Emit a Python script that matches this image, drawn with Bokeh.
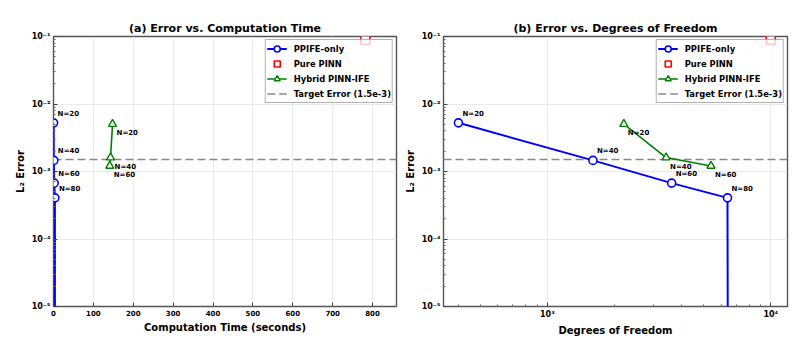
from bokeh.plotting import figure
from bokeh.layouts import row
from bokeh.models import FixedTicker, Range1d, Legend, LegendItem, ColumnDataSource
from bokeh.core.properties import value
from bokeh.embed import file_html
from bokeh.resources import INLINE

# ---------------- data ----------------
ppife_N = [20, 40, 60, 80, 100]
ppife_time = [0.3, 0.8, 1.8, 3.5, 6.0]
ppife_dof = [400, 1600, 3600, 6400, 10000]
ppife_err = [5.26e-3, 1.46e-3, 6.73e-4, 4.07e-4, 0.0]

hybrid_N = [20, 40, 60]
hybrid_time = [148, 143, 141]
hybrid_dof = [2200, 3400, 5400]
hybrid_err = [5.04e-3, 1.61e-3, 1.21e-3]

pinn_time = [782]
pinn_dof = [10000]
pinn_err = [0.089]

target_err = 1.5e-3

y_ticks = [1e-5, 1e-4, 1e-3, 1e-2, 1e-1]
y_tick_labels = ["10⁻⁵", "10⁻⁴", "10⁻³", "10⁻²", "10⁻¹"]
time_ticks = [0, 100, 200, 300, 400, 500, 600, 700, 800]
dof_ticks = [1e3, 1e4]
dof_tick_labels = ["10³", "10⁴"]

FONT = "DejaVu Sans"
BLUE = "#0000ff"
GREEN = "#008000"
RED = "#ff0000"


def log_minors(lo_exp, hi_exp):
    out = []
    for e in range(lo_exp, hi_exp):
        for m in range(2, 10):
            out.append(m * 10.0 ** e)
    return out


def make_fig(title, x_ppife, x_hybrid, x_pinn, x_type, x_rng, x_ticker, x_over,
             xlabel, width, b_left, b_right):
    p = figure(width=width, height=344, x_axis_type=x_type, y_axis_type="log",
               x_range=Range1d(*x_rng), y_range=Range1d(1e-5, 1e-1),
               output_backend="svg", toolbar_location=None,
               min_border_left=b_left, min_border_right=b_right,
               min_border_top=36, min_border_bottom=38)
    p.title.text = title
    p.title.text_font = FONT
    p.title.text_font_size = "11px"
    p.title.text_font_style = "bold"
    p.title.align = "center"
    p.title.standoff = 4
    p.title.text_color = "black"

    p.outline_line_color = "#555555"
    p.outline_line_width = 1.4
    p.background_fill_color = "white"
    p.border_fill_color = "white"

    p.xgrid.grid_line_color = "#e4e4e4"
    p.ygrid.grid_line_color = "#e4e4e4"
    p.xgrid.grid_line_width = 0.8
    p.ygrid.grid_line_width = 0.8

    p.yaxis.ticker = FixedTicker(ticks=y_ticks, minor_ticks=log_minors(-5, -1))
    p.yaxis.major_label_overrides = dict(zip(y_ticks, y_tick_labels))
    p.xaxis.ticker = x_ticker
    if x_over:
        p.xaxis.major_label_overrides = x_over

    for ax in (p.xaxis[0], p.yaxis[0]):
        ax.axis_line_color = None
        ax.major_tick_in = 4
        ax.major_tick_out = 0
        ax.minor_tick_in = 2
        ax.minor_tick_out = 0
        ax.major_tick_line_color = "#444444"
        ax.minor_tick_line_color = "#666666"
        ax.major_label_text_font = FONT
        ax.major_label_text_font_style = "bold"
        ax.major_label_text_color = "black"
        ax.major_label_standoff = 3
        ax.axis_label_text_font = FONT
        ax.axis_label_text_font_size = "10px"
        ax.axis_label_text_font_style = "bold"
        ax.axis_label_text_color = "black"
    p.yaxis.major_label_text_font_size = "8px"
    p.xaxis.major_label_text_font_size = "8px" if x_over else "7px"
    p.xaxis.axis_label = xlabel
    p.xaxis.axis_label_standoff = 3
    p.yaxis.axis_label = "L₂ Error"
    p.yaxis.axis_label_standoff = 3

    # target line across the whole x range
    tgt = p.line(x=[x_rng[0], x_rng[1]], y=[target_err, target_err],
                 line_color="#888888", line_width=1.5, line_dash="8 4")

    # PPIFE-only (non-positive errors clipped like a log axis does)
    err_plot = [e if e > 0 else 1e-300 for e in ppife_err]
    l1 = p.line(x_ppife, err_plot, line_color=BLUE, line_width=2)
    pos = [i for i, e in enumerate(ppife_err) if e > 0]
    src1 = ColumnDataSource(dict(x=[x_ppife[i] for i in pos],
                                 y=[ppife_err[i] for i in pos],
                                 t=["N=%d" % ppife_N[i] for i in pos]))
    s1 = p.scatter("x", "y", source=src1, marker="circle", size=8,
                   line_color=BLUE, line_width=1.6, fill_color="white")

    # Pure PINN
    s2 = p.scatter(x_pinn, pinn_err, marker="square", size=9, line_color=RED,
                   line_width=1.6, fill_color="white")

    # Hybrid
    l3 = p.line(x_hybrid, hybrid_err, line_color=GREEN, line_width=1.6)
    src3 = ColumnDataSource(dict(x=x_hybrid, y=hybrid_err,
                                 t=["N=%d" % n for n in hybrid_N]))
    s3 = p.scatter("x", "y", source=src3, marker="triangle", size=8,
                   line_color=GREEN, line_width=1.4, fill_color="white")

    p.text("x", "y", text="t", source=src1, x_offset=4, y_offset=-9,
           text_font=value(FONT), text_font_size="7px", text_font_style="bold",
           text_baseline="middle", text_align="left", text_color="black")
    p.text("x", "y", text="t", source=src3, x_offset=4, y_offset=9,
           text_font=value(FONT), text_font_size="7px", text_font_style="bold",
           text_baseline="middle", text_align="left", text_color="black")

    legend = Legend(items=[
        LegendItem(label="PPIFE-only", renderers=[l1, s1]),
        LegendItem(label="Pure PINN", renderers=[s2]),
        LegendItem(label="Hybrid PINN-IFE", renderers=[l3, s3]),
        LegendItem(label="Target Error (1.5e-3)", renderers=[tgt]),
    ], location="top_right")
    legend.margin = 3
    legend.padding = 1
    legend.spacing = -2
    legend.glyph_width = 20
    legend.glyph_height = 15
    legend.label_height = 11
    legend.label_standoff = 7
    legend.label_text_font = FONT
    legend.label_text_font_size = "8.4px"
    legend.label_text_font_style = "bold"
    legend.label_text_color = "black"
    legend.border_line_color = "#666666"
    legend.border_line_width = 1.2
    legend.background_fill_color = "white"
    legend.background_fill_alpha = 0.8
    p.add_layout(legend)
    return p


p1 = make_fig("(a) Error vs. Computation Time", ppife_time, hybrid_time, pinn_time,
              "linear", (0, 860), FixedTicker(ticks=time_ticks, minor_ticks=[]), None,
              "Computation Time (seconds)", 401, 53, 5)
p2 = make_fig("(b) Error vs. Degrees of Freedom", ppife_dof, hybrid_dof, pinn_dof,
              "log", (343, 11880),
              FixedTicker(ticks=dof_ticks, minor_ticks=log_minors(2, 4)),
              dict(zip(dof_ticks, dof_tick_labels)),
              "Degrees of Freedom", 405, 42, 19)

layout = row(p1, p2)
open("out.html", "w").write(file_html(layout, INLINE))
